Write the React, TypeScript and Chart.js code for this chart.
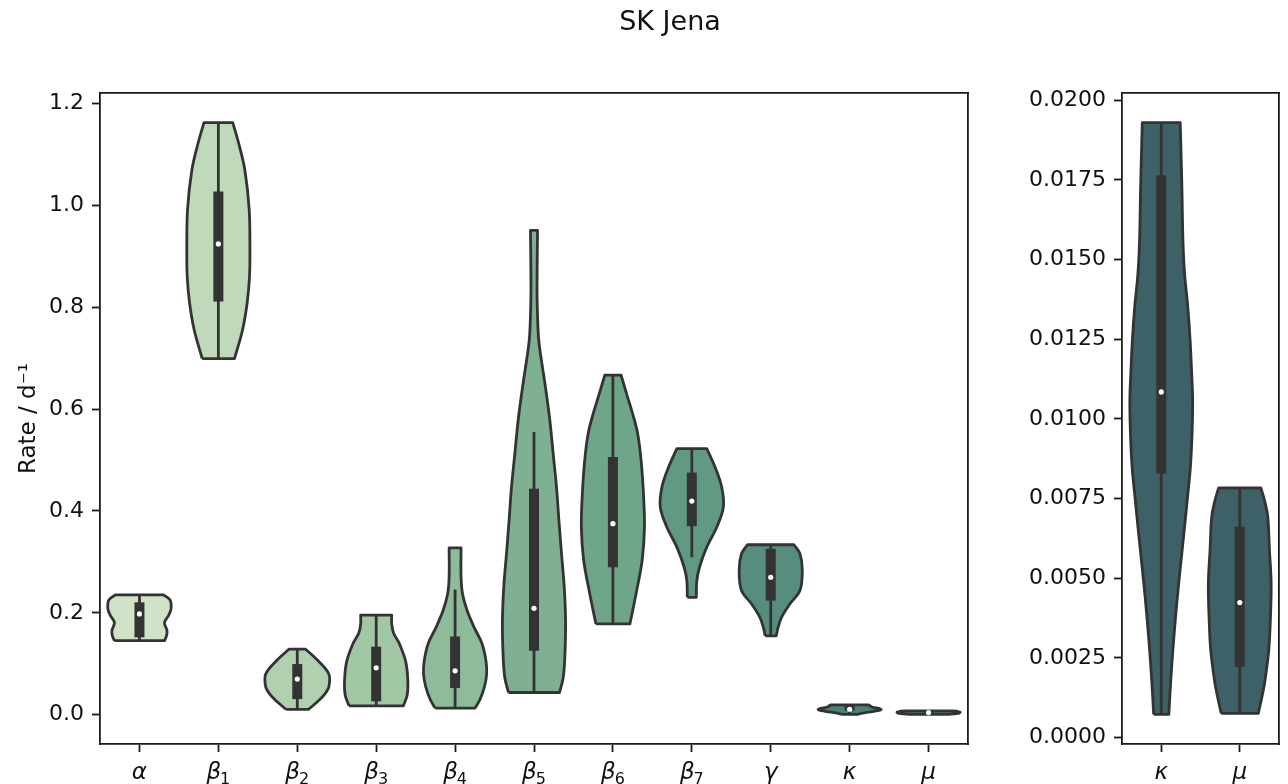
import React, { useEffect, useRef } from 'react';
import { Chart, registerables } from 'chart.js';

Chart.register(...registerables);

// ---------------- text ----------------
const FIG_TITLE = 'SK Jena';
const Y_TITLE = 'Rate / d⁻¹';
const categories = ['α', 'β1', 'β2', 'β3', 'β4', 'β5', 'β6', 'β7', 'γ', 'κ', 'μ'];
const categorySymbols = ['α', 'β', 'β', 'β', 'β', 'β', 'β', 'β', 'γ', 'κ', 'μ'];
const categorySubscripts = ['', '1', '2', '3', '4', '5', '6', '7', '', '', ''];
const insetCategories = ['κ', 'μ'];

// ---------------- tick labels ----------------
const leftTickValues = [0, 0.2, 0.4, 0.6, 0.8, 1.0, 1.2];
const leftTickLabels = ['0.0', '0.2', '0.4', '0.6', '0.8', '1.0', '1.2'];
const rightTickValues = [0, 0.0025, 0.005, 0.0075, 0.01, 0.0125, 0.015, 0.0175, 0.02];
const rightTickLabels = ['0.0000', '0.0025', '0.0050', '0.0075', '0.0100', '0.0125', '0.0150', '0.0175', '0.0200'];

// ---------------- violin density profiles (value levels, relative density) ----------------
const alphaLevels = [0.1454, 0.155, 0.165, 0.1814, 0.1945, 0.2077, 0.2254, 0.2353];
const alphaWidths = [25, 27, 27.5, 25, 29, 31.5, 30.5, 24];

const beta1Levels = [0.699, 0.755, 0.808, 0.86, 0.912, 0.991, 1.07, 1.122, 1.162];
const beta1Widths = [15.7, 23.5, 28, 30.3, 30.7, 30, 25.7, 19.7, 14];

const beta2Levels = [0.0105, 0.026, 0.0405, 0.055, 0.08, 0.106, 0.129];
const beta2Widths = [11, 20, 27, 31, 31, 20.5, 8];

const beta3Levels = [0.0175, 0.0395, 0.0702, 0.1052, 0.1404, 0.16, 0.178, 0.1957];
const beta3Widths = [28, 32, 32.5, 30.3, 23.7, 18, 16, 16];

const beta4Levels = [0.0132, 0.03, 0.055, 0.08, 0.106, 0.14, 0.172, 0.205, 0.237, 0.27, 0.3275];
const beta4Widths = [20, 25, 29.5, 31.7, 31, 27, 19, 12, 7.5, 6, 6];

const beta5Levels = [0.0437, 0.0732, 0.119, 0.1847, 0.2502, 0.316, 0.3814, 0.447, 0.5126, 0.578, 0.6436, 0.696, 0.72, 0.742, 0.79, 0.8403, 0.9505];
const beta5Widths = [25.3, 29, 30.7, 31.3, 30, 27.3, 24.7, 22.3, 19, 15.7, 11.3, 7.3, 5.6, 4.4, 3.4, 3, 3.5];

const beta6Levels = [0.1782, 0.2372, 0.3027, 0.3682, 0.4339, 0.4994, 0.552, 0.5913, 0.6306, 0.6666];
const beta6Widths = [16.7, 22.7, 28.7, 31, 30, 27.7, 24.3, 19.3, 13.3, 8];

const beta7Levels = [0.2305, 0.263, 0.2895, 0.3289, 0.368, 0.4076, 0.4469, 0.4862, 0.5224];
const beta7Widths = [4.5, 5, 7.7, 15, 25, 31.7, 30, 23.3, 15];

const gammaLevels = [0.155, 0.1715, 0.1912, 0.2175, 0.2437, 0.283, 0.316, 0.3336];
const gammaWidths = [5.5, 7.3, 10.7, 19, 29, 31.3, 29, 23];

const kappaLevels = [0.00073, 0.00139, 0.00222, 0.00327, 0.00432, 0.00536, 0.00641, 0.00745, 0.0085, 0.00955, 0.01059, 0.01143, 0.01247, 0.01352, 0.01456, 0.01561, 0.01718, 0.01875, 0.0193];
const kappaWidths = [7.8, 9, 10.7, 13.3, 16.3, 19.7, 23.3, 26.7, 30, 31.7, 32.3, 31.3, 29.7, 27.3, 24, 22.3, 21.3, 20, 19.5];

const muLevels = [0.00076, 0.00118, 0.0017, 0.00275, 0.00379, 0.00484, 0.00588, 0.00693, 0.00745, 0.00784];
const muWidths = [18.7, 21.7, 25, 29.3, 31, 31.7, 30, 28.3, 25, 21.3];

const allLevels = [alphaLevels, beta1Levels, beta2Levels, beta3Levels, beta4Levels, beta5Levels, beta6Levels, beta7Levels, gammaLevels, kappaLevels, muLevels];
const allWidths = [alphaWidths, beta1Widths, beta2Widths, beta3Widths, beta4Widths, beta5Widths, beta6Widths, beta7Widths, gammaWidths, kappaWidths, muWidths];

// ---------------- inner box statistics ----------------
const whiskerLow = [0.1454, 0.699, 0.0105, 0.0175, 0.0132, 0.0437, 0.1782, 0.3092, 0.155, 0.00073, 0.00076];
const whiskerHigh = [0.2353, 1.162, 0.129, 0.1957, 0.2457, 0.555, 0.6666, 0.5224, 0.3336, 0.0193, 0.00784];
const quartile1 = [0.1519, 0.811, 0.0307, 0.0264, 0.0527, 0.1257, 0.2895, 0.37, 0.224, 0.00829, 0.00222];
const quartile3 = [0.2207, 1.027, 0.0995, 0.1336, 0.1536, 0.4437, 0.5059, 0.4752, 0.3257, 0.01765, 0.00662];
const medians = [0.1979, 0.924, 0.07, 0.0922, 0.0863, 0.2089, 0.3749, 0.4194, 0.2699, 0.01085, 0.00424];

// ---------------- colours ----------------
const fillColors = ['#d0e2c8', '#c1d9bb', '#b1d0b0', '#a2c7a5', '#8ebc9a', '#7fb092', '#6fa68a', '#619a83', '#568d7e', '#4a8079', '#3f7474'];
const insetFillColor = '#3d6167';
const LINE = '#333333';
const AXIS = '#1a1a1a';
const TEXT = '#111111';
const FONT = 'DejaVu Sans';

// ---------------- helpers ----------------
function violinPoints(pos: number, levels: number[], widths: number[]) {
  const m = Math.max(...widths);
  const w = widths.map((v) => (v / m) * 0.4);
  const n = levels.length;
  const pts: { x: number; y: number }[] = [];
  pts.push({ x: pos - w[0], y: levels[0] });
  for (let j = 1; j < n - 1; j++) pts.push({ x: pos - w[j], y: levels[j] });
  const tl = { x: pos - w[n - 1], y: levels[n - 1] };
  const tr = { x: pos + w[n - 1], y: levels[n - 1] };
  pts.push(tl, { ...tl }, tr, { ...tr });
  for (let j = n - 2; j >= 1; j--) pts.push({ x: pos + w[j], y: levels[j] });
  const br = { x: pos + w[0], y: levels[0] };
  pts.push(br, { ...br }, { x: pos - w[0], y: levels[0] });
  return pts;
}

function buildDatasets(indices: number[], colorOf: (i: number) => string) {
  const ds: any[] = [];
  indices.forEach((ci, pos) => {
    ds.push({
      type: 'scatter',
      data: [{ x: pos, y: medians[ci] }],
      showLine: false,
      pointRadius: 2.6,
      pointBackgroundColor: '#ffffff',
      pointBorderWidth: 0,
      order: 0,
    });
    ds.push({
      type: 'line',
      data: [{ x: pos, y: quartile1[ci] }, { x: pos, y: quartile3[ci] }],
      borderColor: LINE,
      borderWidth: 10,
      borderCapStyle: 'butt',
      pointRadius: 0,
      fill: false,
      order: 1,
    });
    ds.push({
      type: 'line',
      data: [{ x: pos, y: whiskerLow[ci] }, { x: pos, y: whiskerHigh[ci] }],
      borderColor: LINE,
      borderWidth: 2.8,
      borderCapStyle: 'butt',
      pointRadius: 0,
      fill: false,
      order: 2,
    });
    ds.push({
      type: 'line',
      data: violinPoints(pos, allLevels[ci], allWidths[ci]),
      borderColor: LINE,
      borderWidth: 2.8,
      borderJoinStyle: 'round',
      backgroundColor: colorOf(ci),
      fill: 'shape',
      tension: 0.35,
      pointRadius: 0,
      order: 3,
    });
  });
  return ds;
}

function dataRange(indices: number[]) {
  const lo = Math.min(...indices.map((i) => Math.min(...allLevels[i])));
  const hi = Math.max(...indices.map((i) => Math.max(...allLevels[i])));
  const pad = (hi - lo) * 0.05;
  return { min: lo - pad, max: hi + pad };
}

const tickFont = { family: FONT, size: 22 };

function borderAxis(axis: 'x' | 'y', position: string, size: number) {
  return {
    axis,
    type: 'linear',
    position,
    min: 0,
    max: 1,
    ticks: { display: false },
    grid: { display: false, drawTicks: false, drawOnChartArea: false },
    border: { display: true, color: AXIS, width: 1.8 },
    afterFit: (s: any) => {
      if (axis === 'x') s.height = size;
      else s.width = size;
    },
  };
}

// math-style category labels: italic symbol + upright subscript
function categoryLabelPlugin(indices: number[]) {
  return {
    id: 'categoryLabels',
    afterDraw(chart: any) {
      const ctx = chart.ctx;
      const xs = chart.scales.x;
      const base = chart.chartArea.bottom + 35;
      ctx.save();
      ctx.fillStyle = TEXT;
      ctx.textBaseline = 'alphabetic';
      ctx.textAlign = 'left';
      indices.forEach((ci, pos) => {
        const sym = categorySymbols[ci];
        const sub = categorySubscripts[ci];
        ctx.font = `italic 23px "${FONT}"`;
        const wSym = ctx.measureText(sym).width;
        ctx.font = `16px "${FONT}"`;
        const wSub = sub ? ctx.measureText(sub).width : 0;
        const total = wSym + (sub ? wSub - 1 : 0);
        const x0 = xs.getPixelForValue(pos) - total / 2;
        ctx.font = `italic 23px "${FONT}"`;
        ctx.fillText(sym, x0, base);
        if (sub) {
          ctx.font = `16px "${FONT}"`;
          ctx.fillText(sub, x0 + wSym - 1, base + 4.5);
        }
      });
      ctx.restore();
    },
  };
}

function makeConfig(
  indices: number[],
  labels: string[],
  colorOf: (i: number) => string,
  tickValues: number[],
  tickLabels: string[],
  leftWidth: number,
  rightPad: number,
  withTitle: boolean,
  plugins: any[]
): any {
  const r = dataRange(indices);
  return {
    type: 'line',
    data: { datasets: buildDatasets(indices, colorOf) },
    options: {
      responsive: false,
      animation: false,
      events: [],
      layout: { padding: { left: 0, right: rightPad, top: 0, bottom: 0 } },
      plugins: { legend: { display: false }, tooltip: { enabled: false }, title: { display: false } },
      scales: {
        x: {
          type: 'linear',
          position: 'bottom',
          min: -0.5,
          max: labels.length - 0.5,
          afterBuildTicks: (s: any) => {
            s.ticks = labels.map((_, i) => ({ value: i }));
          },
          ticks: {
            display: false,
            callback: (_v: any, i: number) => labels[i],
            autoSkip: false,
          },
          grid: { display: true, drawOnChartArea: false, drawTicks: true, tickLength: 8, tickColor: AXIS, tickWidth: 1.8 },
          border: { display: true, color: AXIS, width: 1.8 },
          afterFit: (s: any) => {
            s.height = 40;
          },
        },
        y: {
          type: 'linear',
          position: 'left',
          min: r.min,
          max: r.max,
          afterBuildTicks: (s: any) => {
            s.ticks = tickValues.map((v) => ({ value: v }));
          },
          ticks: {
            callback: (_v: any, i: number) => tickLabels[i],
            font: tickFont,
            color: TEXT,
            padding: 8,
            autoSkip: false,
          },
          grid: { display: true, drawOnChartArea: false, drawTicks: true, tickLength: 8, tickColor: AXIS, tickWidth: 1.8 },
          border: { display: true, color: AXIS, width: 1.8 },
          title: withTitle
            ? { display: true, text: Y_TITLE, font: { family: FONT, size: 23 }, color: TEXT, padding: { top: 15, bottom: 0 } }
            : { display: false },
          afterFit: (s: any) => {
            s.width = leftWidth;
          },
        },
        xTop: borderAxis('x', 'top', 93),
        yRight: borderAxis('y', 'right', 0),
      },
    },
    plugins: [categoryLabelPlugin(indices), ...plugins],
  };
}

const titlePlugin = {
  id: 'figTitle',
  afterDraw(chart: any) {
    const ctx = chart.ctx;
    ctx.save();
    ctx.font = `27px "${FONT}"`;
    ctx.fillStyle = TEXT;
    ctx.textAlign = 'center';
    ctx.textBaseline = 'alphabetic';
    ctx.fillText(FIG_TITLE, 670, 30);
    ctx.restore();
  },
};

export default function App() {
  const leftRef = useRef<HTMLCanvasElement>(null);
  const rightRef = useRef<HTMLCanvasElement>(null);

  useEffect(() => {
    const leftIdx = categories.map((_, i) => i);
    const rightIdx = insetCategories.map((c) => categorySymbols.indexOf(c));
    const c1 = new Chart(
      leftRef.current as HTMLCanvasElement,
      makeConfig(leftIdx, categories, (i) => fillColors[i], leftTickValues, leftTickLabels, 100, 22, true, [titlePlugin])
    );
    const c2 = new Chart(
      rightRef.current as HTMLCanvasElement,
      makeConfig(rightIdx, insetCategories, () => insetFillColor, rightTickValues, rightTickLabels, 132, 9, false, [])
    );
    return () => {
      c1.destroy();
      c2.destroy();
    };
  }, []);

  return (
    <div style={{ position: 'fixed', left: 0, top: 0, width: 1288, height: 784, background: '#ffffff' }}>
      <canvas ref={leftRef} width={990} height={784} style={{ position: 'absolute', left: 0, top: 0, width: 990, height: 784 }} />
      <canvas ref={rightRef} width={298} height={784} style={{ position: 'absolute', left: 990, top: 0, width: 298, height: 784 }} />
    </div>
  );
}
